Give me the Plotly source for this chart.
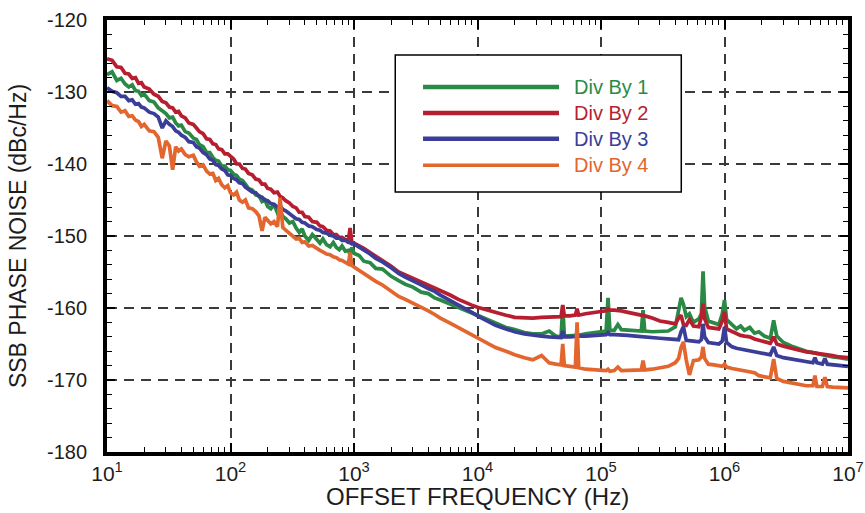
import plotly.graph_objects as go

# ---------------- data ----------------
freq_hz = [
    10, 11, 12, 13, 14, 15, 16, 17, 18, 19, 20,
    22, 24, 26, 28, 30, 32, 34, 36, 38, 40,
    43, 46, 50, 53, 56, 60, 64, 68, 72, 76, 80, 85, 90, 95,
    100, 106, 112, 118, 125, 132, 140, 150, 160, 170, 180, 190,
    200, 212, 225, 240, 252, 265, 280, 300, 320, 340, 360, 380,
    400, 430, 460, 500, 530, 560, 600, 640, 680, 720, 760, 800, 850, 900, 930, 960, 1000,
    1100, 1200, 1350, 1500, 1700, 2000, 2300, 2600, 3000, 3500,
    4000, 4500, 5000, 6000, 7000, 8000, 9000, 10000,
    12000, 14000, 17000, 20000, 24000, 28000, 33000, 38000, 43000, 47500,
    49000, 50500, 56000, 62000, 64000, 66000, 75000, 87000,
    100000, 110000, 114000, 118000, 128000, 137000, 146000, 165000, 190000, 212000,
    219000, 226000, 260000, 300000, 350000, 400000, 425000, 445000, 465000, 490000,
    520000, 560000, 620000, 650000, 670000, 690000, 740000, 820000, 900000, 960000,
    1000000, 1040000, 1150000, 1250000, 1350000, 1450000, 1600000, 1750000, 1900000, 2100000,
    2350000, 2500000, 2650000, 3000000, 3500000, 4000000, 4600000, 5200000, 5400000, 5600000,
    6200000, 6500000, 6800000, 7500000, 8500000, 10000000,
]

div_by_1 = [
    -127.6, -127.2, -128.4, -128.1, -128.9, -129.3, -129.0, -129.8, -129.9, -130.5, -130.3,
    -131.2, -131.4, -132.2, -132.6, -133.0, -133.6, -133.5, -134.3, -134.7, -134.6,
    -135.5, -135.7, -136.4, -136.6, -137.3, -137.6, -138.4, -138.4, -139.1, -139.5, -139.6, -140.3, -140.3, -140.8,
    -140.9, -141.4, -141.6, -142.1, -142.3, -142.8, -143.4, -143.6, -144.3, -144.4, -145.2, -145.0,
    -145.9, -146.2, -145.6, -146.8, -146.5, -147.3, -147.6, -148.2, -148.0, -148.9, -149.5, -149.0,
    -150.0, -150.6, -149.8, -150.5, -151.0, -150.4, -151.2, -151.5, -150.9, -151.6, -151.9, -151.4, -152.1, -152.0, -152.6, -151.6, -152.4,
    -152.7, -153.5, -153.7, -154.5, -154.6, -155.6, -156.2, -156.7, -157.1, -157.8,
    -158.0, -158.6, -158.9, -159.5, -160.0, -160.4, -160.7, -161.0,
    -161.6, -162.1, -162.7, -163.0, -163.4, -163.6, -163.6, -163.2, -163.9, -164.0,
    -159.7, -163.9, -163.9, -163.8, -163.5, -163.8, -163.6, -163.4,
    -163.3, -163.2, -158.6, -163.1, -163.1, -162.3, -163.0, -163.1, -163.2, -163.2,
    -160.3, -163.2, -163.3, -163.3, -163.2, -162.6, -160.0, -158.6, -159.5, -161.2,
    -160.8, -162.0, -161.5, -160.8, -154.9, -159.8, -161.8, -162.0, -162.3, -160.8,
    -158.9, -161.6, -162.4, -162.9, -162.5, -163.1, -162.7, -163.5, -163.3, -163.9,
    -164.2, -161.7, -163.9, -164.8, -165.3, -165.7, -166.0, -166.2, -166.3, -166.3,
    -166.5, -166.6, -166.6, -166.8, -166.9, -167.1,
]

div_by_2 = [
    -125.4, -125.6, -126.5, -126.6, -127.4, -127.5, -128.1, -128.0, -128.8, -128.7, -129.3,
    -129.6, -130.3, -130.6, -131.3, -131.5, -132.1, -132.2, -132.8, -132.7, -133.3,
    -133.6, -134.3, -134.5, -135.0, -135.5, -135.8, -136.5, -136.6, -137.2, -137.3, -137.9, -138.0, -138.6, -138.6,
    -139.0, -139.3, -140.0, -140.0, -140.6, -140.7, -141.3, -141.5, -142.1, -142.2, -142.8, -142.8,
    -143.4, -143.5, -144.0, -143.9, -144.5, -144.7, -145.1, -145.4, -145.9, -146.1, -146.7, -146.7,
    -147.3, -147.4, -148.0, -148.1, -148.6, -148.7, -149.2, -149.3, -149.8, -149.8, -150.2, -150.2, -150.5, -150.6, -148.9, -150.8, -151.0,
    -151.3, -151.7, -152.3, -152.8, -153.4, -154.2, -155.0, -155.4, -155.9, -156.4,
    -156.9, -157.2, -157.6, -158.2, -158.8, -159.3, -159.6, -159.9,
    -160.3, -160.7, -161.0, -161.3, -161.4, -161.4, -161.3, -161.3, -161.2, -161.2,
    -159.6, -161.1, -161.1, -161.0, -160.1, -161.0, -160.8, -160.6,
    -160.4, -160.4, -160.1, -160.3, -160.3, -160.3, -160.4, -160.6, -160.8, -161.0,
    -161.0, -161.1, -161.4, -161.8, -162.0, -162.2, -161.4, -161.0, -162.3, -162.4,
    -161.6, -162.5, -162.6, -161.2, -159.4, -161.5, -162.7, -162.8, -162.9, -161.8,
    -160.5, -162.9, -163.3, -163.5, -163.8, -163.9, -164.0, -164.3, -164.5, -164.7,
    -164.9, -164.0, -165.0, -165.3, -165.6, -165.9, -166.1, -166.2, -166.3, -166.3,
    -166.4, -166.5, -166.5, -166.6, -166.8, -166.9,
]

div_by_3 = [
    -129.4, -129.9, -130.1, -130.6, -130.6, -131.2, -131.1, -131.7, -131.6, -132.1, -132.2,
    -132.8, -133.0, -133.5, -135.0, -134.0, -134.5, -134.8, -135.4, -135.6, -136.0,
    -136.3, -136.9, -137.0, -137.6, -137.8, -138.4, -138.7, -139.3, -139.5, -140.1, -140.2, -140.7, -140.9, -141.5,
    -141.6, -142.0, -142.2, -142.6, -142.7, -143.2, -143.5, -143.9, -144.0, -144.5, -144.6, -145.0,
    -145.1, -145.5, -145.6, -146.0, -145.8, -146.3, -146.5, -146.9, -147.2, -147.6, -147.7, -148.1,
    -148.2, -148.6, -148.7, -149.1, -149.2, -149.5, -149.6, -149.9, -150.0, -150.3, -150.3, -150.6, -150.6, -150.9, -150.9, -151.1, -151.1,
    -151.5, -152.0, -152.5, -153.1, -153.6, -154.4, -155.2, -155.7, -156.3, -156.8,
    -157.3, -157.7, -158.2, -158.9, -159.5, -160.1, -160.6, -161.1,
    -161.8, -162.4, -162.9, -163.3, -163.6, -163.8, -163.9, -164.0, -164.0, -164.1,
    -163.2, -164.0, -164.0, -163.9, -163.9, -163.9, -163.9, -163.8,
    -163.8, -163.7, -163.4, -163.7, -163.7, -163.7, -163.7, -163.8, -163.9, -164.0,
    -164.0, -164.0, -164.1, -164.2, -164.3, -164.3, -164.4, -163.3, -162.6, -164.5,
    -164.5, -164.6, -164.7, -164.4, -162.2, -164.0, -164.8, -164.9, -165.0, -164.6,
    -162.6, -164.8, -165.4, -165.6, -165.7, -165.8, -166.0, -166.1, -166.2, -166.4,
    -166.5, -165.4, -166.6, -166.9, -167.1, -167.3, -167.5, -167.6, -166.9, -167.6,
    -167.8, -167.0, -167.8, -167.9, -168.0, -168.1,
]

div_by_4 = [
    -131.2, -131.9, -132.0, -132.8, -132.6, -133.4, -133.3, -133.9, -134.1, -134.8, -134.5,
    -135.4, -135.5, -136.3, -139.2, -136.8, -137.5, -140.8, -137.6, -138.2, -137.9,
    -138.7, -139.0, -138.8, -139.7, -140.3, -140.1, -141.0, -141.4, -141.3, -142.3, -142.0, -142.9, -143.3, -143.0,
    -144.0, -144.3, -143.9, -145.0, -145.3, -145.0, -146.1, -146.2, -146.6, -147.2, -149.3, -147.4,
    -147.9, -148.3, -148.0, -148.7, -144.7, -148.8, -149.2, -149.6, -149.9, -150.4, -150.3, -150.9,
    -150.8, -151.4, -151.3, -151.8, -152.0, -152.2, -152.5, -152.6, -152.9, -153.0, -153.3, -153.4, -153.7, -153.9, -152.3, -154.1, -154.3,
    -154.8, -155.2, -155.8, -156.3, -156.8, -157.6, -158.4, -158.8, -159.3, -159.9,
    -160.4, -160.9, -161.4, -162.1, -162.7, -163.3, -163.8, -164.2,
    -164.9, -165.5, -166.0, -166.5, -166.9, -167.2, -166.6, -167.6, -167.8, -167.9,
    -165.0, -168.0, -168.1, -168.2, -162.0, -168.3, -168.5, -168.6,
    -168.7, -168.7, -168.5, -168.8, -168.7, -168.2, -168.7, -168.7, -168.6, -168.6,
    -167.3, -168.6, -168.5, -168.3, -168.1, -167.6, -167.0, -165.5, -164.7, -167.2,
    -169.3, -167.3, -167.2, -166.8, -165.4, -167.0, -167.8, -167.9, -168.0, -168.1,
    -167.8, -168.2, -168.4, -168.5, -168.6, -168.7, -168.8, -169.0, -169.4, -169.6,
    -169.7, -167.1, -169.8, -170.2, -170.4, -170.6, -170.8, -170.8, -169.4, -170.9,
    -170.9, -169.6, -170.9, -171.0, -171.0, -171.1,
]

series_names = ["Div By 1", "Div By 2", "Div By 3", "Div By 4"]
series_colors = ["#2a8a45", "#b71f30", "#3a3e98", "#e2662e"]

y_tick_values = [-180, -170, -160, -150, -140, -130, -120]
y_tick_labels = ["-180", "-170", "-160", "-150", "-140", "-130", "-120"]
x_tick_exponents = [1, 2, 3, 4, 5, 6, 7]

x_title = "OFFSET FREQUENCY (Hz)"
y_title = "SSB PHASE NOISE (dBc/Hz)"

# ---------------- figure ----------------
series_values = [div_by_1, div_by_2, div_by_3, div_by_4]
for vals in series_values:
    assert len(vals) == len(freq_hz)

x_tickvals = [10 ** e for e in x_tick_exponents]
x_ticktext = [f"10<sup>{e}</sup>" for e in x_tick_exponents]
x_minor_vals = [m * 10 ** e for e in x_tick_exponents[:-1] for m in range(2, 10)]
y_minor_vals = [v for v in range(y_tick_values[0], y_tick_values[-1] + 1, 2) if v not in y_tick_values]

fig = go.Figure()
for name, vals, color in zip(series_names, series_values, series_colors):
    fig.add_trace(go.Scatter(
        x=freq_hz, y=vals, mode="lines", name=name,
        line=dict(color=color, width=3.7), showlegend=False,
    ))

font_family = "Liberation Sans, Arial, Helvetica, sans-serif"
text_color = "#1c1c1c"

fig.update_layout(
    width=865, height=513,
    margin=dict(l=107, r=17, t=20, b=61),
    paper_bgcolor="white", plot_bgcolor="white",
    showlegend=False,
    font=dict(family=font_family, color=text_color),
)

grid_style = dict(showgrid=True, gridcolor="#3a3a3a", gridwidth=1.5, griddash="10px,7px")

fig.update_xaxes(
    type="log", range=[1, 7], automargin=False,
    tickmode="array", tickvals=x_tickvals, ticktext=x_ticktext,
    ticks="inside", ticklen=9, tickwidth=1.5, tickcolor="black",
    showline=True, linewidth=4, linecolor="black", mirror="allticks",
    zeroline=False,
    tickfont=dict(size=21, color=text_color),
    ticklabelstandoff=0,
    minor=dict(tickmode="array", tickvals=x_minor_vals, ticks="inside", ticklen=5,
               tickwidth=1.2, tickcolor="black", showgrid=False),
    **grid_style,
)

fig.update_yaxes(
    range=[y_tick_values[0], y_tick_values[-1]], automargin=False,
    tickmode="array", tickvals=y_tick_values, ticktext=y_tick_labels,
    ticks="inside", ticklen=8, tickwidth=1.5, tickcolor="black",
    showline=True, linewidth=4, linecolor="black", mirror="allticks",
    zeroline=False,
    tickfont=dict(size=20, color=text_color),
    ticklabelstandoff=12,
    minor=dict(tickmode="array", tickvals=y_minor_vals, ticks="inside", ticklen=5,
               tickwidth=1.2, tickcolor="black", showgrid=False),
    title=dict(text=y_title, font=dict(size=23, color=text_color)),
    **grid_style,
)

# x-axis title placed as a centred annotation below the tick labels
fig.add_annotation(xref="x domain", yref="paper", x=0.5, y=-0.104,
                   text=x_title, showarrow=False, xanchor="center", yanchor="middle",
                   font=dict(size=24, color=text_color, family=font_family))

# ---------------- custom legend (box, line samples, coloured labels) ----------------
legend_box = dict(x0=0.389, x1=0.775, y0=0.602, y1=0.919)
legend_line_x = (0.4265, 0.610)
legend_text_x = 0.627
legend_rows_y = [0.845, 0.785, 0.725, 0.664]
legend_line_widths = [4.5, 4.5, 4.5, 3.5]

fig.add_shape(type="rect", xref="x domain", yref="y domain",
              x0=legend_box["x0"], x1=legend_box["x1"], y0=legend_box["y0"], y1=legend_box["y1"],
              line=dict(color="black", width=1.5), fillcolor="white", layer="above")
for name, color, ry, lw in zip(series_names, series_colors, legend_rows_y, legend_line_widths):
    fig.add_shape(type="line", xref="x domain", yref="y domain",
                  x0=legend_line_x[0], x1=legend_line_x[1], y0=ry, y1=ry,
                  line=dict(color=color, width=lw), layer="above")
    fig.add_annotation(xref="x domain", yref="y domain", x=legend_text_x, y=ry,
                       text=name, showarrow=False, xanchor="left", yanchor="middle",
                       font=dict(size=20, color=color, family=font_family))

fig.write_html("out.html")
